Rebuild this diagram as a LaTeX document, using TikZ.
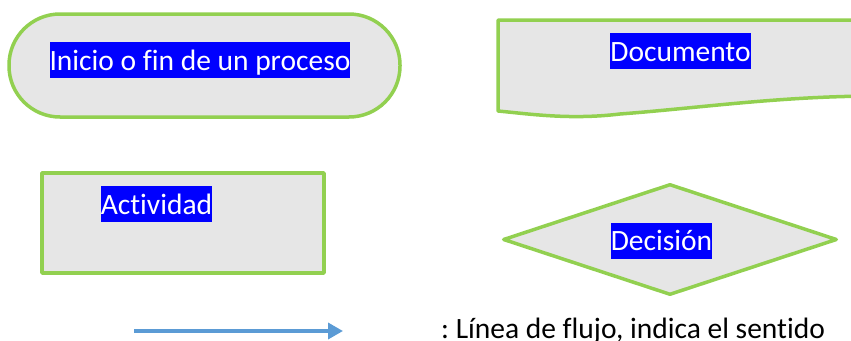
\documentclass[tikz,border=0pt]{standalone}
\usepackage{fontspec}
\setmainfont{Carlito}[Ligatures=NoCommon]
\usetikzlibrary{arrows.meta,shapes.geometric}
\definecolor{verde}{HTML}{92D050}
\definecolor{gris}{HTML}{E6E6E6}
\definecolor{azulflujo}{HTML}{5B9BD5}
\frenchspacing
\tikzset{
	forma/.style={draw=verde,fill=gris,line width=3.5pt,line join=round},
	resaltado/.style={fill=blue,text=white,inner xsep=0pt,inner ysep=0pt,text height=28pt,text depth=8pt,font=\fontsize{29.5}{36}\selectfont},
}
\begin{document}
\begin{tikzpicture}[x=1pt,y=-1pt,line cap=round]
			\useasboundingbox (0,0) rectangle (851,340);
			\node[forma,rectangle,rounded corners=51pt,minimum width=391pt,minimum height=103pt] (inicio) at (204.5,65.5) {};
			\draw[forma] (498,20) -- (880,20) -- (880,96) .. controls (780,96) and (700,108) .. (620,114) .. controls (570,120) and (530,114) .. (498,111) -- cycle;
			\node[forma,rectangle,minimum width=282pt,minimum height=100pt] (actividad) at (183,223) {};
			\node[forma,diamond,inner sep=0pt,minimum width=334pt,minimum height=111pt] (decision) at (670,239.5) {};
			\node[resaltado] (tinicio) at (200,60) {Inicio o fin de un proceso};
			\node[resaltado] (tdocumento) at (680.5,51) {Documento};
			\node[resaltado] (tactividad) at (156.5,204) {Actividad};
			\node[resaltado] (tdecision) at (661.5,240.5) {Decisión};
			\coordinate (flujoA) at (134,331);
			\coordinate (flujoB) at (343,331);
			\draw[-{Triangle[length=15pt,width=16pt]},azulflujo,line width=3.5pt,line cap=butt] (flujoA) -- (flujoB);
			\node[anchor=base west,inner sep=0pt,font=\fontsize{29.5}{36}\selectfont] (tflujo) at (441,338) {: Línea de flujo, indica el sentido};
		\end{tikzpicture}
\end{document}
